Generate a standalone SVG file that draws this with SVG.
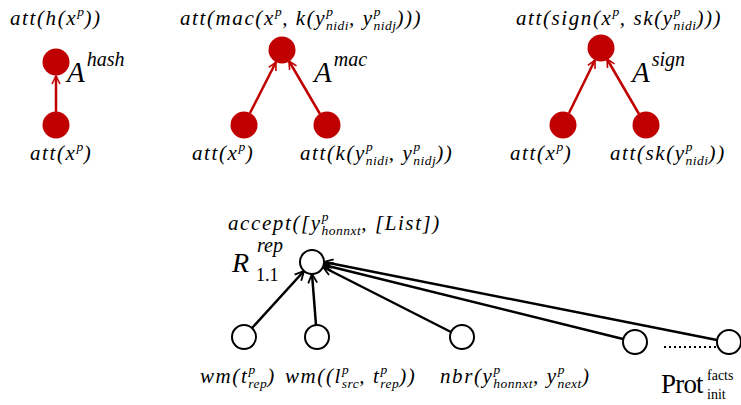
<svg xmlns="http://www.w3.org/2000/svg" width="741" height="405" viewBox="0 0 741 405">
<style>
text{font-family:"Liberation Serif","Times New Roman",serif;font-style:italic;font-size:21px;letter-spacing:1.6px;fill:#000}
.s{font-size:13.5px;letter-spacing:0.5px}
.big{font-size:29px;letter-spacing:0}
.up{font-style:normal;letter-spacing:0}
.red{fill:#c00000}
.rl{stroke:#c00000;stroke-width:2.5;fill:none}
.bl{stroke:#000;stroke-width:2.5;fill:none}
.wn{fill:#fff;stroke:#000;stroke-width:2}
</style>
<defs>
<marker id="ar" viewBox="0 0 10 10" refX="9" refY="5" markerWidth="4" markerHeight="4" orient="auto" markerUnits="strokeWidth"><path d="M1,1 L9,5 L1,9" fill="none" stroke="#c00000" stroke-width="1.6"/></marker>
<marker id="ab" viewBox="0 0 10 10" refX="9" refY="5" markerWidth="4.5" markerHeight="4.5" orient="auto" markerUnits="strokeWidth"><path d="M1,1 L9,5 L1,9" fill="none" stroke="#000" stroke-width="1.6"/></marker>
</defs>
<g id="connectors">
<line class="rl" x1="56" y1="112" x2="56" y2="76" marker-end="url(#ar)"/>
<line class="rl" x1="250" y1="113" x2="276" y2="62" marker-end="url(#ar)"/>
<line class="rl" x1="320" y1="114" x2="289" y2="61" marker-end="url(#ar)"/>
<line class="rl" x1="569" y1="113" x2="595" y2="60" marker-end="url(#ar)"/>
<line class="rl" x1="639" y1="114" x2="607" y2="59" marker-end="url(#ar)"/>
<line class="bl" x1="252" y1="328" x2="304" y2="271" marker-end="url(#ab)"/>
<line class="bl" x1="316" y1="325" x2="312" y2="274" marker-end="url(#ab)"/>
<line class="bl" x1="451" y1="332" x2="323" y2="267" marker-end="url(#ab)"/>
<line class="bl" x1="623" y1="339" x2="324" y2="265" marker-end="url(#ab)"/>
<line class="bl" x1="717" y1="340" x2="324" y2="262" marker-end="url(#ab)"/>
<line x1="664" y1="347" x2="716" y2="347" stroke="#000" stroke-width="2" stroke-dasharray="2,3"/>
</g>
<g id="hash-top"><circle class="red" cx="56" cy="62" r="13.5"/><text x="10" y="25">att(h(x<tspan class="s" dy="-9">p</tspan><tspan dy="9">))</tspan></text></g>
<g id="hash-bot"><circle class="red" cx="56" cy="125" r="13.5"/><text x="30" y="160">att(x<tspan class="s" dy="-9">p</tspan><tspan dy="9">)</tspan></text></g>
<text x="67" y="82" class="big">A<tspan font-size="20" dx="2" dy="-16">hash</tspan></text>

<g id="mac-top"><circle class="red" cx="282" cy="50" r="13.5"/><text x="180" y="25">att(mac(x<tspan class="s" dy="-9">p</tspan><tspan dy="9">, k(y</tspan><tspan class="s" dy="-9">p</tspan><tspan class="s" dx="-7.5" dy="14">nidi</tspan><tspan dy="-5">, y</tspan><tspan class="s" dy="-9">p</tspan><tspan class="s" dx="-7.5" dy="14">nidj</tspan><tspan dy="-5">)))</tspan></text></g>
<g id="mac-l"><circle class="red" cx="244" cy="125" r="13.5"/><text x="192" y="160">att(x<tspan class="s" dy="-9">p</tspan><tspan dy="9">)</tspan></text></g>
<g id="mac-r"><circle class="red" cx="327" cy="125" r="13.5"/><text x="300" y="160">att(k(y<tspan class="s" dy="-9">p</tspan><tspan class="s" dx="-7.5" dy="14">nidi</tspan><tspan dy="-5">, y</tspan><tspan class="s" dy="-9">p</tspan><tspan class="s" dx="-7.5" dy="14">nidj</tspan><tspan dy="-5">))</tspan></text></g>
<text x="314" y="82" class="big">A<tspan font-size="20" dx="2" dy="-16">mac</tspan></text>

<g id="sign-top"><circle class="red" cx="601" cy="48" r="13.5"/><text x="516" y="25">att(sign(x<tspan class="s" dy="-9">p</tspan><tspan dy="9">, sk(y</tspan><tspan class="s" dy="-9">p</tspan><tspan class="s" dx="-7.5" dy="14">nidi</tspan><tspan dy="-5">)))</tspan></text></g>
<g id="sign-l"><circle class="red" cx="563" cy="125" r="13.5"/><text x="510" y="160">att(x<tspan class="s" dy="-9">p</tspan><tspan dy="9">)</tspan></text></g>
<g id="sign-r"><circle class="red" cx="646" cy="125" r="13.5"/><text x="610" y="160">att(sk(y<tspan class="s" dy="-9">p</tspan><tspan class="s" dx="-7.5" dy="14">nidi</tspan><tspan dy="-5">))</tspan></text></g>
<text x="632" y="82" class="big">A<tspan font-size="20" dx="2" dy="-16">sign</tspan></text>

<g id="R"><circle class="wn" cx="312" cy="262" r="12"/><text x="228" y="230">accept([y<tspan class="s" dy="-9">p</tspan><tspan class="s" dx="-7.5" dy="14">honnxt</tspan><tspan dy="-5">, [List])</tspan></text>
<text x="232" y="272" style="font-size:28px;letter-spacing:0">R</text><text x="257" y="252" style="font-size:20px;letter-spacing:0">rep</text><text x="256" y="281" style="font-size:18px;font-style:normal;letter-spacing:0">1.1</text></g>
<g id="n1"><circle class="wn" cx="244" cy="337" r="12"/><text x="200" y="383">wm(t<tspan class="s" dy="-9">p</tspan><tspan class="s" dx="-7.5" dy="14">rep</tspan><tspan dy="-5">)</tspan></text></g>
<g id="n2"><circle class="wn" cx="317" cy="337" r="12"/><text x="285" y="383">wm((l<tspan class="s" dy="-9">p</tspan><tspan class="s" dx="-7.5" dy="14">src</tspan><tspan dy="-5">, t</tspan><tspan class="s" dy="-9">p</tspan><tspan class="s" dx="-7.5" dy="14">rep</tspan><tspan dy="-5">))</tspan></text></g>
<g id="n3"><circle class="wn" cx="462" cy="337" r="12"/><text x="440" y="383">nbr(y<tspan class="s" dy="-9">p</tspan><tspan class="s" dx="-7.5" dy="14">honnxt</tspan><tspan dy="-5">, y</tspan><tspan class="s" dy="-9">p</tspan><tspan class="s" dx="-7.5" dy="14">next</tspan><tspan dy="-5">)</tspan></text></g>
<g id="n4"><circle class="wn" cx="635" cy="342" r="12"/></g>
<g id="n5"><circle class="wn" cx="729" cy="342" r="12"/><text x="661" y="393" style="font-size:27px;font-style:normal;letter-spacing:-0.8px">Prot</text><text x="707" y="380" style="font-size:14px;font-style:normal;letter-spacing:0">facts</text><text x="707" y="399" style="font-size:14px;font-style:normal;letter-spacing:0">init</text></g>
</svg>
